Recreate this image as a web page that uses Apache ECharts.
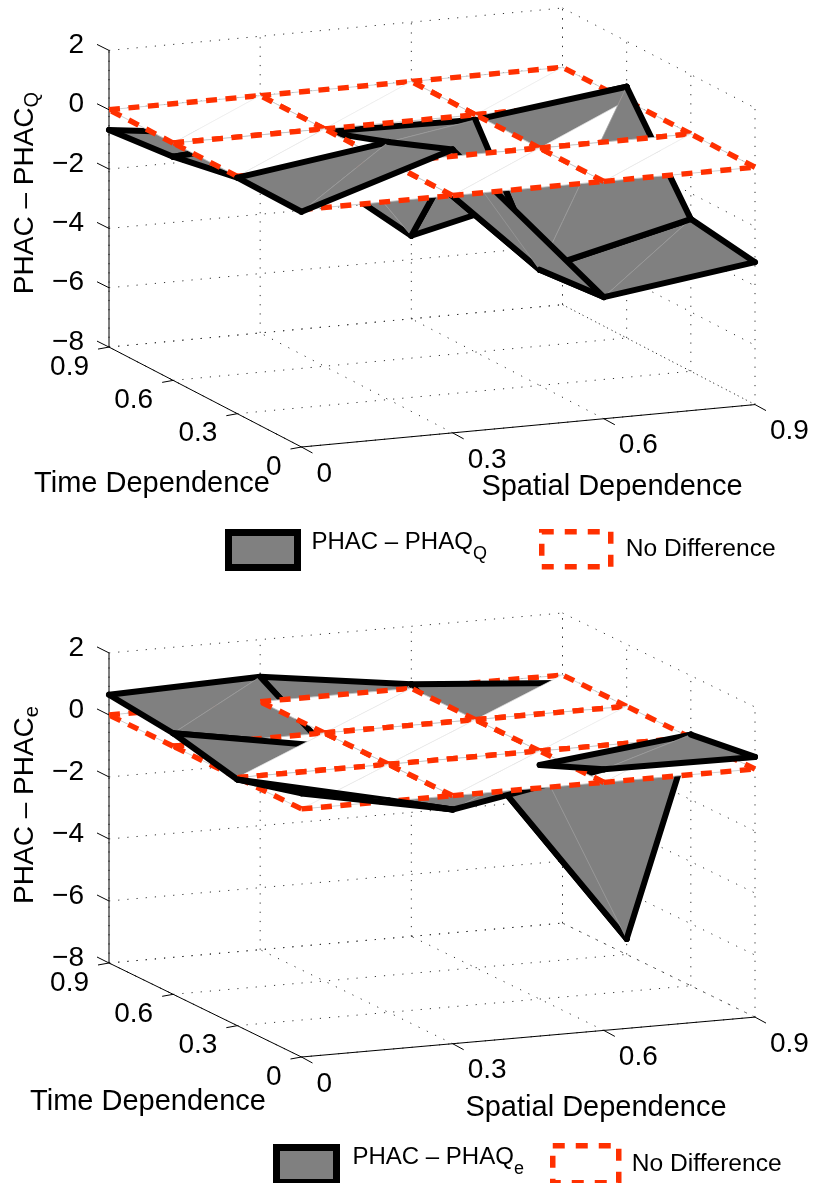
<!DOCTYPE html>
<html>
<head>
<meta charset="utf-8">
<title>PHAC differences</title>
<style>html,body{margin:0;padding:0;background:#fff}#chart{width:814px;height:1183px}</style>
<script src="https://cdn.jsdelivr.net/npm/echarts@6/dist/echarts.min.js"></script>
</head>
<body>
<div id="chart"></div>
<script>
const spatialTicks = [0, 0.3, 0.6, 0.9]
const timeTicks = [0, 0.3, 0.6, 0.9]
const zTicks = [2, 0, -2, -4, -6, -8]

// rows run along time (0 .. 0.9), columns along spatial (0 .. 0.9)
const diffQ = [
  [-0.07, 1.55, -3.9, -3.2],
  [-0.04, 0.68, -4.1, -2.87],
  [-0.46, -0.1, -0.17, 0.47],
  [-0.68, -1.3, -5.2, -4]
]
const diffE = [
  [0.5, -0.45, 0.42, 0.39],
  [-0.06, -1.16, -0.45, 0.1],
  [0.42, -0.42, -1.2, -7.5],
  [0.65, 0.8, 0.13, -0.26]
]
const noDifference = [
  [0, 0, 0, 0],
  [0, 0, 0, 0],
  [0, 0, 0, 0],
  [0, 0, 0, 0]
]

// painter's order of the triangles as exported: S/P surface or plane, column, row, L/U half
const orderQ = ['P22U', 'P22L', 'P21U', 'S21U', 'P21L', 'S21L', 'P11U', 'P11L', 'S11U', 'S11L',
  'P12U', 'P12L', 'P02U', 'P02L', 'P01U', 'P01L', 'P00U', 'P00L', 'S10L', 'P10U', 'P10L', 'P20U', 'P20L', 'S00U', 'S00L']
const orderE = ['P22U', 'S22U', 'P22L', 'P02U', 'P02L', 'S02U', 'S02L', 'P12U', 'P12L', 'P01U', 'S01U', 'P01L',
  'P11U', 'P11L', 'P21U', 'P21L', 'P00U', 'P00L', 'S00U', 'S00L', 'P20U', 'P20L', 'S10L', 'P10U', 'P10L', 'S20U', 'S20L']

const FONT = '"Liberation Sans", Arial, sans-serif'
const BLACK = '#000'
const GRAY = '#808080'
const RED = '#ff3000'
const AZ = -23 * Math.PI / 180

const panels = [
  { z: diffQ, order: orderQ, el: 12.73, h: 0.6174, sub: 'Q', name: 'PHAC – PHAQQ', top: 8, front: 447,
    zLabelY: 193, timeTitle: [152, 484], spatialTitle: [612, 487] },
  { z: diffE, order: orderE, el: 11.95, h: 0.6426, sub: 'e', name: 'PHAC – PHAQe', top: 613, front: 1057,
    zLabelY: 805, timeTitle: [148, 1102], spatialTitle: [596, 1108] }
]

// same camera maths as view(az, el) on a normalised box
function project(p, s, t, z) {
  const el = p.el * Math.PI / 180
  const sn = s / 0.9
  const tn = t / 0.9
  const zn = (z + 8) / 10
  return [
    Math.cos(AZ) * sn + Math.sin(AZ) * tn,
    -Math.sin(el) * Math.sin(AZ) * sn + Math.sin(el) * Math.cos(AZ) * tn + Math.cos(el) * p.h * zn
  ]
}

function parseOrder(p) {
  const items = []
  // whatever is not listed goes first, from the back of the box to the front
  for (let j = 2; j >= 0; j--) {
    for (let i = 2; i >= 0; i--) {
      ['U', 'L'].forEach(h => {
        const key = 'S' + i + j + h
        if (p.order.indexOf(key) < 0) items.push(key)
      })
    }
  }
  return items.concat(p.order)
}

function triangleData(p, kind) {
  return parseOrder(p).map((key, idx) => [+key[1], +key[2], key[3] === 'U' ? 1 : 0, idx, key[0]])
    .filter(d => d[4] === kind).map(d => d.slice(0, 4))
}

function cornerList(i, j, upper) {
  return upper
    ? [[i, j], [i, j + 1], [i + 1, j + 1]]
    : [[i, j], [i + 1, j], [i + 1, j + 1]]
}

function renderTriangle(p, values, isPlane) {
  return function (params, api) {
    const i = api.value(0)
    const j = api.value(1)
    const upper = api.value(2) === 1
    const z2 = 100 + api.value(3) * 4
    const pt = c => api.coord(project(p, spatialTicks[c[0]], timeTicks[c[1]], values[c[1]][c[0]]))
    const cs = cornerList(i, j, upper)
    const pts = cs.map(pt)
    const children = [{
      type: 'polygon', z2: z2, silent: true,
      shape: { points: pts },
      style: { fill: isPlane ? '#fff' : GRAY, stroke: isPlane ? '#fff' : GRAY, lineWidth: 0.4 }
    }, {
      type: 'line', z2: z2 + 1, silent: true,
      shape: { x1: pts[0][0], y1: pts[0][1], x2: pts[2][0], y2: pts[2][1] },
      style: { stroke: isPlane ? '#e2e2e2' : '#a6a6a6', lineWidth: 0.5 }
    }]
    // the two mesh edges of the half, always walked in rising index order so dashes line up
    const edges = [[cs[0], cs[1]], [cs[1], cs[2]]]
    edges.forEach(e => {
      const a = pt(e[0])
      const b = pt(e[1])
      const shape = { x1: a[0], y1: a[1], x2: b[0], y2: b[1] }
      if (isPlane) {
        children.push({ type: 'line', z2: z2 + 2, silent: true, shape: shape, style: { stroke: '#b0b0b0', lineWidth: 0.6 } })
        children.push({ type: 'line', z2: z2 + 3, silent: true, shape: shape, style: { stroke: RED, lineWidth: 5.4, lineDash: [11, 8.5] } })
      } else {
        children.push({ type: 'line', z2: z2 + 2, silent: true, shape: shape, style: { stroke: BLACK, lineWidth: 6, lineCap: 'round' } })
      }
    })
    return { type: 'group', children: children }
  }
}

function renderFrame(p) {
  return function (params, api) {
    const children = []
    const pt = (s, t, z) => api.coord(project(p, s, t, z))
    const sMax = spatialTicks[spatialTicks.length - 1]
    const tMax = timeTicks[timeTicks.length - 1]
    const zMin = zTicks[zTicks.length - 1]
    const zMax = zTicks[0]
    const seg = (a, b, dotted) => children.push({
      type: 'line', z2: 1, silent: true,
      shape: { x1: a[0], y1: a[1], x2: b[0], y2: b[1] },
      style: dotted ? { stroke: '#333', lineWidth: 1, lineDash: [1.2, 8] } : { stroke: BLACK, lineWidth: 1 }
    })
    const label = (text, x, y, align) => children.push({
      type: 'text', z2: 2, silent: true, x: x, y: y,
      style: { text: text, font: '28px ' + FONT, fill: BLACK, align: align, verticalAlign: 'middle' }
    })

    zTicks.forEach(z => {
      seg(pt(0, tMax, z), pt(sMax, tMax, z), true)
      seg(pt(sMax, tMax, z), pt(sMax, 0, z), true)
      const a = pt(0, tMax, z)
      seg(a, [a[0] - 12, a[1] - 6])
      label(String(z).replace('-', '−'), a[0] - 25, a[1] - 5, 'right')
    })
    spatialTicks.forEach(s => {
      seg(pt(s, 0, zMin), pt(s, tMax, zMin), true)
      seg(pt(s, tMax, zMin), pt(s, tMax, zMax), true)
      const a = pt(s, 0, zMin)
      seg(a, [a[0] + 11, a[1] + 6])
      label(String(s), a[0] + 15, a[1] + 27, 'left')
    })
    timeTicks.forEach(t => {
      seg(pt(0, t, zMin), pt(sMax, t, zMin), true)
      seg(pt(sMax, t, zMin), pt(sMax, t, zMax), true)
      const a = pt(0, t, zMin)
      seg(a, [a[0] - 11, a[1] + 2])
      label(String(t), a[0] - 20, a[1] + 20, 'right')
    })
    seg(pt(0, tMax, zMin), pt(0, tMax, zMax))
    seg(pt(0, 0, zMin), pt(sMax, 0, zMin))
    seg(pt(0, 0, zMin), pt(0, tMax, zMin))

    const title = (text, pos) => children.push({
      type: 'text', z2: 2, silent: true, x: pos[0], y: pos[1],
      style: { text: text, font: '29px ' + FONT, fill: BLACK, align: 'center', verticalAlign: 'middle' }
    })
    title('Time Dependence', p.timeTitle)
    title('Spatial Dependence', p.spatialTitle)
    children.push({
      type: 'text', z2: 2, silent: true, x: 25, y: p.zLabelY, rotation: Math.PI / 2,
      style: {
        text: '{a|PHAC – PHAC}{b|' + p.sub + '}', align: 'center', verticalAlign: 'middle',
        rich: {
          a: { font: '28px ' + FONT, fill: BLACK },
          b: { font: '20px ' + FONT, fill: BLACK, padding: [14, 0, 0, 0] }
        }
      }
    })
    return { type: 'group', children: children }
  }
}

const grid = []
const xAxis = []
const yAxis = []
const series = []
panels.forEach((p, n) => {
  const vMax = project(p, 0.9, 0.9, 2)[1]
  grid.push({ left: 109, width: 646, top: p.top, height: p.front - p.top })
  xAxis.push({ type: 'value', gridIndex: n, min: Math.sin(AZ), max: Math.cos(AZ), show: false })
  yAxis.push({ type: 'value', gridIndex: n, min: 0, max: vMax, show: false })
  const common = { type: 'custom', xAxisIndex: n, yAxisIndex: n, animation: false, silent: true, clip: false }
  series.push(Object.assign({}, common, { name: 'frame' + n, data: [[0, 0]], renderItem: renderFrame(p) }))
  series.push(Object.assign({}, common, {
    name: p.name, data: triangleData(p, 'S'), renderItem: renderTriangle(p, p.z, false),
    itemStyle: { color: GRAY, borderColor: BLACK, borderWidth: 6 }
  }))
  series.push(Object.assign({}, common, {
    name: 'No Difference', data: triangleData(p, 'P'), renderItem: renderTriangle(p, noDifference, true),
    itemStyle: { color: '#fff', borderColor: RED, borderWidth: 5 }
  }))
})

function surfaceLegend(p, left, top, w, h, textGap) {
  return {
    left: left, top: top, padding: 0, itemWidth: w, itemHeight: h, selectedMode: false,
    data: [{ name: p.name, icon: 'rect', itemStyle: { color: GRAY, borderColor: BLACK, borderWidth: 7 } }],
    formatter: () => '{a|PHAC – PHAQ}{b|' + p.sub + '}',
    textStyle: {
      padding: [0, 0, 16, textGap],
      rich: {
        a: { fontFamily: FONT, fontSize: 24, color: BLACK },
        b: { fontFamily: FONT, fontSize: 18, color: BLACK, padding: [24, 0, 0, 0] }
      }
    }
  }
}
function planeLegend(left, top, w, h, textGap) {
  return {
    left: left, top: top, padding: 0, itemWidth: w, itemHeight: h, selectedMode: false,
    data: [{ name: 'No Difference', icon: 'rect', itemStyle: { color: '#fff', borderColor: RED, borderWidth: 5.5, borderType: [12, 11] } }],
    textStyle: { fontFamily: FONT, fontSize: 24.6, color: BLACK, padding: [24, 0, 0, textGap] }
  }
}

const chart = echarts.init(document.getElementById('chart'), null, { renderer: 'canvas' })
chart.setOption({
  backgroundColor: '#fff',
  animation: false,
  tooltip: { show: false },
  grid: grid,
  xAxis: xAxis,
  yAxis: yAxis,
  legend: [
    surfaceLegend(panels[0], 225, 529, 69, 35, 9),
    planeLegend(539, 529, 69, 35, 10),
    surfaceLegend(panels[1], 273, 1144, 60, 35, 11),
    planeLegend(550, 1143, 66, 37, 8)
  ],
  series: series
})
</script>
</body>
</html>
